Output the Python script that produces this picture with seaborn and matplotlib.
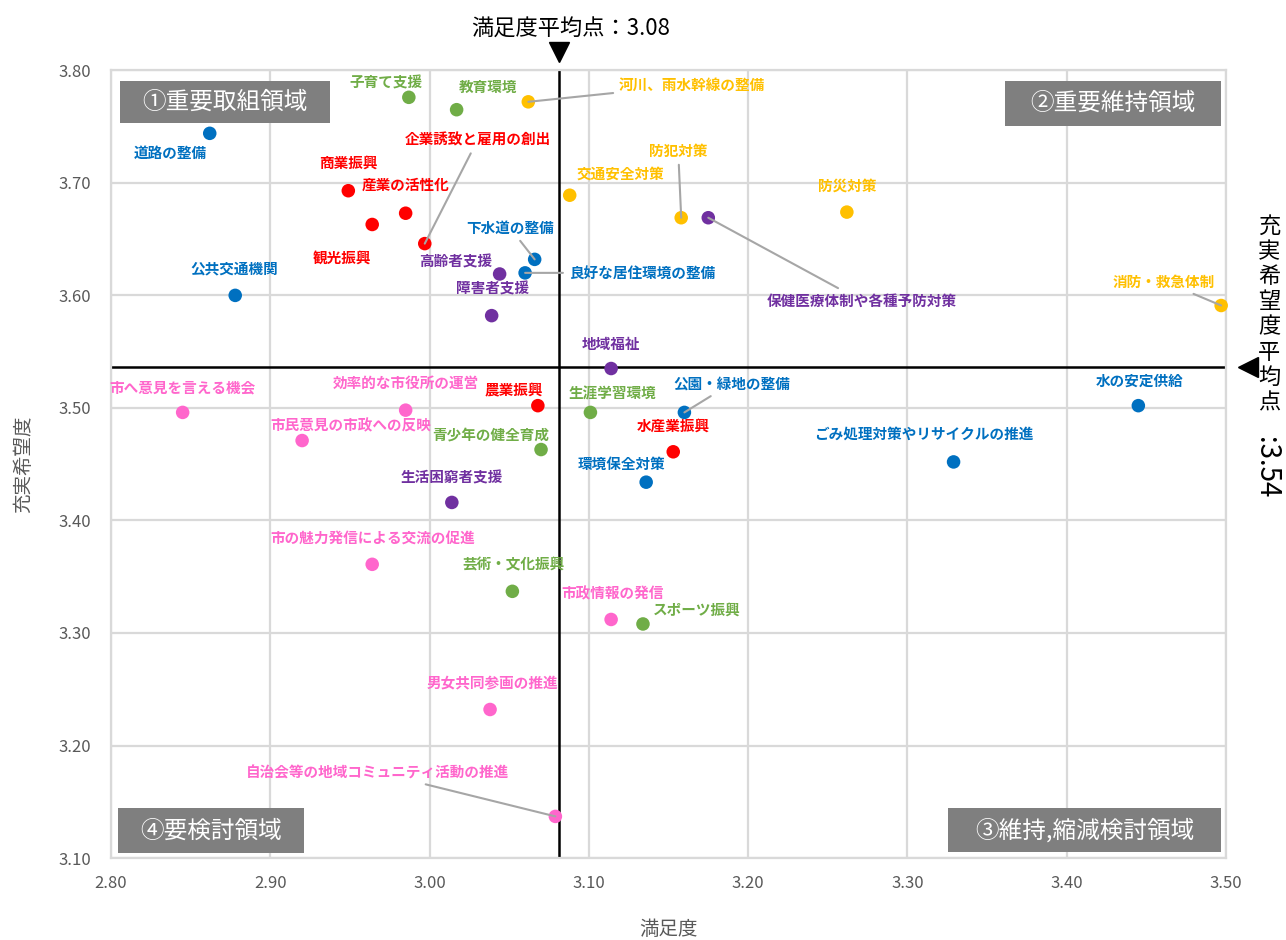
import seaborn as sns
import numpy as np
import pandas as pd
import matplotlib.pyplot as plt
from matplotlib.patches import Rectangle
import matplotlib.transforms as mtransforms

# 施策ごとの満足度と充実希望度
koumoku = ["道路の整備", "公共交通機関", "下水道の整備", "良好な居住環境の整備", "公園・緑地の整備",
           "環境保全対策", "ごみ処理対策やリサイクルの推進", "水の安定供給",
           "河川、雨水幹線の整備", "交通安全対策", "防犯対策", "防災対策", "消防・救急体制",
           "子育て支援", "教育環境", "生涯学習環境", "青少年の健全育成", "芸術・文化振興", "スポーツ振興",
           "商業振興", "産業の活性化", "観光振興", "企業誘致と雇用の創出", "農業振興", "水産業振興",
           "高齢者支援", "障害者支援", "保健医療体制や各種予防対策", "地域福祉", "生活困窮者支援",
           "市へ意見を言える機会", "効率的な市役所の運営", "市民意見の市政への反映",
           "市の魅力発信による交流の促進", "市政情報の発信", "男女共同参画の推進",
           "自治会等の地域コミュニティ活動の推進"]
manzoku = [2.862, 2.878, 3.066, 3.060, 3.160, 3.136, 3.329, 3.445,
           3.062, 3.088, 3.158, 3.262, 3.497,
           2.987, 3.017, 3.101, 3.070, 3.052, 3.134,
           2.949, 2.985, 2.964, 2.997, 3.068, 3.153,
           3.044, 3.039, 3.175, 3.114, 3.014,
           2.845, 2.985, 2.920, 2.964, 3.114, 3.038, 3.079]
kibou = [3.744, 3.600, 3.632, 3.620, 3.496, 3.434, 3.452, 3.502,
         3.772, 3.689, 3.669, 3.674, 3.591,
         3.776, 3.765, 3.496, 3.463, 3.337, 3.308,
         3.693, 3.673, 3.663, 3.646, 3.502, 3.461,
         3.619, 3.582, 3.669, 3.535, 3.416,
         3.496, 3.498, 3.471, 3.361, 3.312, 3.232, 3.137]
bunya = (["都市基盤"] * 8 + ["安全"] * 5 + ["教育"] * 6 + ["産業"] * 6
         + ["福祉"] * 5 + ["行政"] * 7)

heikin_manzoku = 3.081
heikin_kibou = 3.536

iro = {"都市基盤": "#0070C0", "安全": "#FFC000", "教育": "#70AD47",
       "産業": "#FF0000", "福祉": "#7030A0", "行政": "#FF66CC"}

# ラベルの位置 (点からのずらし, ピクセル) と引き出し線の有無
label_pos = {
    "道路の整備": (-39, -20, False), "公共交通機関": (-1, 27, False),
    "下水道の整備": (-25, 32, True), "良好な居住環境の整備": (117, 0, True),
    "公園・緑地の整備": (47, 29, True), "環境保全対策": (-25, 18, False),
    "ごみ処理対策やリサイクルの推進": (-30, 28, False), "水の安定供給": (1, 25, False),
    "河川、雨水幹線の整備": (164, 17, True), "交通安全対策": (51, 22, False),
    "防犯対策": (-3, 67, True), "防災対策": (0, 26, False),
    "消防・救急体制": (-57, 24, True), "子育て支援": (-23, 15, False),
    "教育環境": (31, 23, False), "生涯学習環境": (22, 19, False),
    "青少年の健全育成": (-50, 14, False), "芸術・文化振興": (1, 27, False),
    "スポーツ振興": (54, 14, False), "商業振興": (0, 28, False),
    "産業の活性化": (0, 28, False), "観光振興": (-30, -33, False),
    "企業誘致と雇用の創出": (53, 104, True), "農業振興": (-24, 15, False),
    "水産業振興": (0, 26, False), "高齢者支援": (-44, 13, False),
    "障害者支援": (1, 27, False), "保健医療体制や各種予防対策": (153, -83, True),
    "地域福祉": (0, 25, False), "生活困窮者支援": (0, 25, False),
    "市へ意見を言える機会": (0, 25, False), "効率的な市役所の運営": (0, 27, False),
    "市民意見の市政への反映": (49, 15, False), "市の魅力発信による交流の促進": (1, 27, False),
    "市政情報の発信": (1, 26, False), "男女共同参画の推進": (2, 27, False),
    "自治会等の地域コミュニティ活動の推進": (-178, 44, True),
}

df = pd.DataFrame({"項目": koumoku, "満足度": manzoku, "充実希望度": kibou, "分野": bunya})

sns.set_theme(style="white")
plt.rcParams["font.family"] = ["Noto Sans CJK JP", "DejaVu Sans"]

fig = plt.figure(figsize=(12.86, 9.40), dpi=100)
ax = fig.add_axes([0.0863, 0.0872, 0.867, 0.838])

gray_txt = "#595959"
grid_c = "#D9D9D9"

ax.set_xlim(2.80, 3.50)
ax.set_ylim(3.10, 3.80)
ax.set_xticks(np.arange(2.80, 3.501, 0.10))
ax.set_yticks(np.arange(3.10, 3.801, 0.10))
ax.set_xticklabels([f"{v:.2f}" for v in np.arange(2.80, 3.501, 0.10)])
ax.set_yticklabels([f"{v:.2f}" for v in np.arange(3.10, 3.801, 0.10)])
ax.grid(True, color=grid_c, linewidth=1.6)
for s in ax.spines.values():
    s.set_color(grid_c)
    s.set_linewidth(1.6)
ax.tick_params(axis="x", length=0, pad=12, labelsize=12, labelcolor=gray_txt)
ax.tick_params(axis="y", length=0, pad=14, labelsize=12, labelcolor=gray_txt)

# 平均線
ax.axvline(heikin_manzoku, color="black", linewidth=1.8, zorder=2)
ax.axhline(heikin_kibou, color="black", linewidth=1.8, zorder=2)

sns.scatterplot(data=df, x="満足度", y="充実希望度", hue="分野", palette=iro,
                s=95, edgecolor="none", legend=False, ax=ax, zorder=4, clip_on=False)

for name, xv, yv, grp in zip(koumoku, manzoku, kibou, bunya):
    dx, dy, line = label_pos[name]
    kw = {}
    if line:
        kw["arrowprops"] = dict(arrowstyle="-", color="#A6A6A6", lw=1.5,
                                shrinkA=2, shrinkB=0)
    ax.annotate(name, xy=(xv, yv), xytext=(dx, dy), textcoords="offset pixels",
                ha="center", va="center", fontsize=10.5, fontweight="bold",
                color=iro[grp], zorder=5, **kw)

ax.set_xlabel("満足度", fontsize=14, color=gray_txt, labelpad=20)
ax.set_ylabel("充実希望度", fontsize=14, color=gray_txt, labelpad=18)

# 領域の見出し
boxes = [("①重要取組領域", 0.008, 0.933, 0.188, 0.054),
         ("②重要維持領域", 0.802, 0.929, 0.194, 0.058),
         ("③維持,縮減検討領域", 0.751, 0.008, 0.245, 0.055),
         ("④要検討領域", 0.006, 0.006, 0.167, 0.057)]
for txt, bx, by, bw, bh in boxes:
    ax.add_patch(Rectangle((bx, by), bw, bh, transform=ax.transAxes,
                           facecolor="#7F7F7F", edgecolor="none", zorder=6))
    ax.text(bx + bw / 2, by + bh / 2, txt, transform=ax.transAxes, ha="center",
            va="center", fontsize=17, color="white", zorder=7)

# 平均点の注記
tx = mtransforms.blended_transform_factory(ax.transData, ax.transAxes)
ax.plot([heikin_manzoku], [1.023], marker="v", markersize=15, color="black",
        transform=tx, clip_on=False)
ax.text(heikin_manzoku + 0.0075, 1.052, f"満足度平均点：{heikin_manzoku:.2f}",
        transform=tx, ha="center", va="center", fontsize=16, color="black")

ty = mtransforms.blended_transform_factory(ax.transAxes, ax.transData)
ax.plot([1.020], [heikin_kibou], marker="<", markersize=15, color="black",
        transform=ty, clip_on=False)
ax.text(1.039, 0.690, "\n".join("充実希望度平均点"), transform=ax.transAxes,
        ha="center", va="center", fontsize=16, linespacing=1.12, color="black")
ax.text(1.036, 0.496, f":{heikin_kibou:.2f}", transform=ax.transAxes,
        ha="center", va="center", fontsize=20, rotation=-90,
        rotation_mode="anchor", color="black")

plt.savefig("out.png", dpi=100)
